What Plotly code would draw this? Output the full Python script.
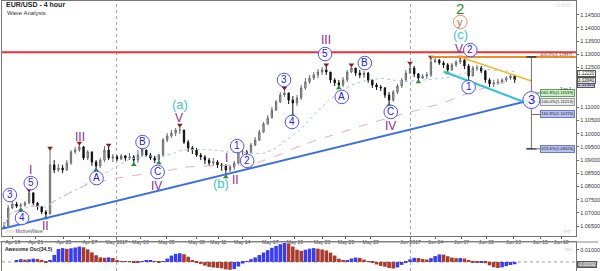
import numpy as np
import pandas as pd
import plotly.graph_objects as go

# ---------------- data (EUR/USD, 8-hour sampling of the 4h chart) ----------------
closes = [1.0651,1.0719,1.0734,1.0726,1.0730,1.0738,1.0776,1.0738,1.0723,1.0704,
          1.0696,1.0882,1.0863,1.0870,1.0863,1.0889,1.0931,1.0938,1.0950,1.0908,
          1.0931,1.0893,1.0878,1.0900,1.0938,1.0908,1.0912,1.0904,1.0916,1.0908,
          1.0912,1.0900,1.0919,1.0938,1.0919,1.0908,1.0900,1.0919,1.0976,1.0991,
          1.1002,1.1014,1.1014,1.0968,1.0946,1.0938,1.0919,1.0912,1.0900,1.0889,
          1.0893,1.0882,1.0878,1.0863,1.0874,1.0889,1.0931,1.0931,1.0927,1.0957,
          1.0976,1.1006,1.1037,1.1059,1.1089,1.1120,1.1146,1.1154,1.1127,1.1116,
          1.1135,1.1173,1.1195,1.1210,1.1222,1.1233,1.1241,1.1233,1.1203,1.1192,
          1.1184,1.1203,1.1233,1.1248,1.1229,1.1222,1.1229,1.1203,1.1184,1.1176,
          1.1173,1.1146,1.1127,1.1157,1.1180,1.1203,1.1229,1.1248,1.1226,1.1210,
          1.1218,1.1222,1.1271,1.1278,1.1267,1.1260,1.1241,1.1260,1.1271,1.1278,
          1.1256,1.1218,1.1248,1.1248,1.1237,1.1203,1.1188,1.1192,1.1195,1.1203,
          1.1210,1.1218,1.1203]
highs = [1.0666,1.0730,1.0749,1.0742,1.0738,1.0745,1.0787,1.0779,1.0742,1.0726,
         1.0711,1.0946,1.0900,1.0885,1.0882,1.0900,1.0938,1.0950,1.0965,1.0953,
         1.0938,1.0931,1.0900,1.0908,1.0953,1.0957,1.0923,1.0919,1.0923,1.0919,
         1.0927,1.0919,1.0938,1.0946,1.0938,1.0927,1.0916,1.0923,1.0984,1.1002,
         1.1014,1.1021,1.1033,1.1014,1.0976,1.0953,1.0946,1.0927,1.0919,1.0908,
         1.0908,1.0900,1.0889,1.0885,1.0882,1.0897,1.0938,1.0942,1.0938,1.0965,
         1.0987,1.1014,1.1044,1.1070,1.1101,1.1127,1.1157,1.1173,1.1154,1.1142,
         1.1146,1.1184,1.1210,1.1222,1.1233,1.1244,1.1252,1.1260,1.1233,1.1210,
         1.1203,1.1214,1.1241,1.1260,1.1248,1.1241,1.1237,1.1233,1.1203,1.1192,
         1.1184,1.1176,1.1157,1.1165,1.1188,1.1210,1.1241,1.1267,1.1256,1.1229,
         1.1226,1.1233,1.1290,1.1286,1.1282,1.1275,1.1267,1.1267,1.1278,1.1290,
         1.1282,1.1263,1.1256,1.1260,1.1256,1.1241,1.1210,1.1203,1.1207,1.1210,
         1.1218,1.1226,1.1222]
lows = [1.0640,1.0651,1.0715,1.0719,1.0711,1.0723,1.0734,1.0730,1.0711,1.0696,
        1.0681,1.0696,1.0851,1.0855,1.0851,1.0859,1.0882,1.0923,1.0931,1.0900,
        1.0900,1.0878,1.0863,1.0870,1.0893,1.0900,1.0893,1.0897,1.0900,1.0897,
        1.0900,1.0882,1.0889,1.0912,1.0912,1.0900,1.0889,1.0889,1.0912,1.0968,
        1.0984,1.0991,1.0999,1.0961,1.0931,1.0923,1.0912,1.0900,1.0885,1.0878,
        1.0878,1.0870,1.0859,1.0836,1.0855,1.0863,1.0882,1.0919,1.0916,1.0927,
        1.0953,1.0972,1.1002,1.1033,1.1059,1.1086,1.1116,1.1139,1.1112,1.1070,
        1.1105,1.1127,1.1165,1.1188,1.1203,1.1210,1.1222,1.1222,1.1192,1.1180,
        1.1173,1.1176,1.1195,1.1229,1.1218,1.1210,1.1210,1.1192,1.1173,1.1165,
        1.1161,1.1135,1.1108,1.1120,1.1150,1.1173,1.1195,1.1226,1.1214,1.1195,
        1.1207,1.1207,1.1214,1.1267,1.1260,1.1248,1.1229,1.1237,1.1252,1.1263,
        1.1244,1.1199,1.1218,1.1237,1.1229,1.1192,1.1176,1.1176,1.1184,1.1188,
        1.1195,1.1203,1.1192]
first_open = 1.0645

tick_labels = ["Apr 19", "Apr 21", "Apr 25", "Apr 27", "May 2017", "May 03", "May 05",
               "May 09", "May 11", "May 14", "May 17", "May 19", "May 23", "May 25",
               "May 29", "Jun 2017", "Jun 04", "Jun 07", "Jun 09", "Jun 13", "Jun 15", "Jun 18"]
tick_bars = [2.1, 7.6, 14.3, 20.5, 26.9, 32.6, 38.8, 46.0, 51.2, 56.9, 63.6, 69.5,
             76.0, 81.7, 87.6, 97.1, 103.1, 109.3, 115.2, 121.7, 128.1, 133.1]
month_starts = ["May 2017", "Jun 2017"]

price_ticks = [1.065, 1.07, 1.075, 1.08, 1.085, 1.09, 1.095, 1.10, 1.105, 1.11,
               1.125, 1.13, 1.135, 1.14, 1.145]

resistance_level = 1.1308
fib_names = ["061.8%", "100.0%", "161.8%", "423.6%"]
fib_values = [1.11539, 1.11213, 1.10725, 1.09426]
fib_top_text = "100.0%(1.12997)"

top_pivots = [6, 11, 18, 25, 33, 42, 67, 77, 83, 97, 102, 109]
bottom_pivots = [4, 10, 22, 31, 37, 53, 69, 80, 92, 99, 106, 111]

# wave labels: text, bar, price, style
wave_labels = [
    ("3", 1.4, 1.0768, "circ"), ("4", 4.3, 1.0681, "circ"), ("5", 6.4, 1.0813, "circ"),
    ("I", 6.4, 1.0863, "roman"), ("II", 10.0, 1.0651, "roman"), ("III", 18.1, 1.0987, "roman"),
    ("A", 22.1, 1.0832, "circ"), ("B", 33.1, 1.0968, "circ"), ("C", 36.7, 1.0855, "circ"),
    ("IV", 36.4, 1.0802, "roman"), ("V", 41.9, 1.1059, "roman"), ("(a)", 42.1, 1.1112, "minor"),
    ("(b)", 51.9, 1.0810, "minor"), ("I", 53.1, 1.0908, "roman"), ("II", 55.2, 1.0825, "roman"),
    ("1", 55.7, 1.0953, "circ"), ("2", 58.1, 1.0897, "circ"), ("3", 66.9, 1.1203, "circ"),
    ("4", 68.8, 1.1044, "circ"), ("5", 76.7, 1.1301, "circ"), ("III", 76.9, 1.1354, "roman"),
    ("A", 80.7, 1.1139, "circ"), ("B", 86.2, 1.1267, "circ"), ("C", 92.4, 1.1082, "circ"),
    ("IV", 92.4, 1.1029, "roman"), ("2", 109.0, 1.1475, "major"), ("y", 109.0, 1.1422, "ycirc"),
    ("(c)", 109.0, 1.1373, "minor"), ("V", 108.8, 1.1320, "roman"), ("2", 111.4, 1.1316, "circ"),
    ("1", 111.0, 1.1176, "circ"), ("3", 126.0, 1.1127, "bigcirc"),
]
target_bar = 126.0

# ---------------- derived ----------------
n = len(closes)
x = list(range(n))
opens = [first_open] + closes[:-1]
s_close = pd.Series(closes)
sma_long = s_close.rolling(60, min_periods=1).mean()
sma_mid = s_close.rolling(20, min_periods=1).mean()
median = (pd.Series(highs) + pd.Series(lows)) / 2
ao = median.rolling(3, min_periods=1).mean() - median.rolling(17, min_periods=1).mean()
ao_colors = ["#3b3bef" if i > 0 and ao[i] > ao[i - 1] else "#a8392f" for i in range(n)]

# ---------------- layout constants ----------------
W, H = 600, 271
XR = [-0.48, 136.67]
XDOM = [2 / W, 578 / W]
Y1DOM = [35 / H, 1 - 1 / H]
Y1R = [1.0613, 1.15015]
Y2DOM = [0, 29 / H]
Y2R = [-0.0075, 0.0165]
FONT = "Liberation Sans, Arial, sans-serif"
PURPLE = "#8b2f8b"
CYAN = "#3fc4cc"
BLUE = "#2222dd"
BOX_RIGHT = 577 / W

fig = go.Figure()

fig.add_trace(go.Scatter(x=x, y=sma_long, mode="lines",
                         line=dict(color="#e6a9c9", width=1, dash="dash"),
                         hoverinfo="skip", showlegend=False))
fig.add_trace(go.Scatter(x=x, y=sma_mid, mode="lines",
                         line=dict(color="#a9c6ee", width=1, dash="dot"),
                         hoverinfo="skip", showlegend=False))

fig.add_trace(go.Candlestick(
    x=x, open=opens, high=highs, low=lows, close=closes,
    increasing=dict(line=dict(color="#6a6a6a", width=1), fillcolor="#c4c4c4"),
    decreasing=dict(line=dict(color="#111111", width=1), fillcolor="#111111"),
    whiskerwidth=0, showlegend=False, hoverinfo="skip"))

fig.add_trace(go.Scatter(x=top_pivots, y=[highs[i] for i in top_pivots], mode="markers",
                         marker=dict(symbol="triangle-down", size=5, color="#8b1c1c"),
                         hoverinfo="skip", showlegend=False))
fig.add_trace(go.Scatter(x=bottom_pivots, y=[lows[i] for i in bottom_pivots], mode="markers",
                         marker=dict(symbol="triangle-up", size=5, color="#2f8a2f"),
                         hoverinfo="skip", showlegend=False))

fig.add_trace(go.Bar(x=x, y=ao, marker=dict(color=ao_colors, line=dict(width=0)),
                     xaxis="x2", yaxis="y2", hoverinfo="skip", showlegend=False))

shapes = []
annotations = []

# month separators
for lab in month_starts:
    xb = tick_bars[tick_labels.index(lab)]
    shapes.append(dict(type="line", xref="x", yref="paper", x0=xb, x1=xb, y0=0, y1=Y1DOM[1],
                       line=dict(color="#a0a0a0", width=1, dash="dot"), layer="below"))

# resistance line
shapes.append(dict(type="line", xref="x", yref="y", x0=XR[0], x1=XR[1],
                   y0=resistance_level, y1=resistance_level,
                   line=dict(color="#ee3030", width=2)))
# orange horizontal from top at bar 102
shapes.append(dict(type="line", xref="x", yref="y", x0=102, x1=XR[1],
                   y0=highs[102], y1=highs[102], line=dict(color="#f08a2a", width=2)))

# blue trend line through wave II low to wave 3 target
t_slope = (wave_labels[-1][2] - lows[10]) / (target_bar - 10)
shapes.append(dict(type="line", xref="x", yref="y", x0=XR[0], x1=target_bar - 0.7,
                   y0=lows[10] + (XR[0] - 10) * t_slope,
                   y1=lows[10] + (target_bar - 0.7 - 10) * t_slope,
                   line=dict(color="#3b6fe0", width=2)))
# cyan channel line through lows 106 and 111
c_slope = (lows[111] - lows[106]) / 5
shapes.append(dict(type="line", xref="x", yref="y", x0=105, x1=target_bar - 0.7,
                   y0=lows[106] - c_slope, y1=lows[106] + (target_bar - 0.7 - 106) * c_slope,
                   line=dict(color="#33c3cc", width=2)))
# yellow line through highs 109 and 121
y_slope = (highs[121] - highs[109]) / 12
shapes.append(dict(type="line", xref="x", yref="y", x0=109, x1=target_bar,
                   y0=highs[109], y1=highs[109] + (target_bar - 109) * y_slope,
                   line=dict(color="#f2b821", width=1.5)))

# fib projection tool
box_bar = 129.3
shapes.append(dict(type="line", xref="x", yref="y", x0=target_bar, x1=target_bar,
                   y0=highs[102], y1=fib_values[-1], line=dict(color="#707070", width=1)))
for yv in (highs[102], fib_values[-1]):
    shapes.append(dict(type="line", xref="x", yref="y", x0=target_bar - 1.2, x1=target_bar + 1.2,
                       y0=yv, y1=yv, line=dict(color="#333333", width=1.5)))
fib_bg = ["#c9efc4", "#ececec", "#b9c3ef", "#b9c3ef"]
fib_bd = ["#58a858", "#999999", "#6a78cc", "#6a78cc"]
for name, val, bg, bd in zip(fib_names, fib_values, fib_bg, fib_bd):
    shapes.append(dict(type="line", xref="x", yref="y", x0=target_bar, x1=box_bar,
                       y0=val, y1=val, line=dict(color="#707070", width=1)))
    annotations.append(dict(xref="paper", yref="y", x=BOX_RIGHT, y=val, xanchor="right",
                            yanchor="middle", text=f"{name}({val:.5f})", showarrow=False,
                            font=dict(size=4.2, color="#222222", family=FONT),
                            bgcolor=bg, bordercolor=bd, borderwidth=1, borderpad=0.3))
annotations.append(dict(xref="paper", yref="y", x=BOX_RIGHT, y=(resistance_level + highs[102]) / 2,
                        xanchor="right", yanchor="middle", text=fib_top_text, showarrow=False,
                        font=dict(size=4.2, color="#333333", family=FONT)))
annotations.append(dict(xref="paper", yref="y", x=BOX_RIGHT - 0.002, y=fib_values[0] + 0.0015,
                        xanchor="right", yanchor="middle", text="3 es 1", showarrow=False,
                        font=dict(size=4.2, color="#222222", family=FONT)))

# wave labels
for text, b, p, style in wave_labels:
    if style in ("circ", "bigcirc", "ycirc"):
        r = 8.5 if style == "bigcirc" else 6.8
        lc = "#e09070" if style == "ycirc" else "#5050ff"
        shapes.append(dict(type="circle", xref="x", yref="y", xsizemode="pixel", ysizemode="pixel",
                           xanchor=b, yanchor=p, x0=-r, x1=r, y0=-r, y1=r,
                           line=dict(color=lc, width=1), fillcolor="rgba(255,255,255,0.85)",
                           layer="above"))
        col = "#c06a3a" if style == "ycirc" else BLUE
        size = 13 if style == "bigcirc" else (11 if style == "ycirc" else 10)
        annotations.append(dict(xref="x", yref="y", x=b, y=p, text=text, showarrow=False,
                                font=dict(size=size, color=col, family=FONT),
                                xanchor="center", yanchor="middle", yshift=0.5))
    else:
        col = {"roman": PURPLE, "minor": CYAN, "major": "#2a8a2a"}[style]
        size = {"roman": 12, "minor": 13, "major": 15}[style]
        annotations.append(dict(xref="x", yref="y", x=b, y=p, text=text, showarrow=False,
                                font=dict(size=size, color=col, family=FONT),
                                xanchor="center", yanchor="middle"))

# AO zero line
shapes.append(dict(type="line", xref="paper", yref="y2", x0=XDOM[0], x1=1, y0=0, y1=0,
                   line=dict(color="#9a9a9a", width=1, dash="dot"), layer="below"))
# panel separator
shapes.append(dict(type="line", xref="paper", yref="paper", x0=0, x1=1, y0=Y2DOM[1], y1=Y2DOM[1],
                   line=dict(color="#888888", width=1)))

# price boxes on axis (last bar high / low and long average)
for val, bg, ys in ((highs[-1], "#ffffff", 1.5), (lows[-1], "#c9c9f2", -1.5),
                    (sma_long.iloc[-1], "#e6e6e6", -1)):
    annotations.append(dict(xref="paper", yref="y", x=XDOM[1] + 0.002, y=val, xanchor="left",
                            yanchor="middle", text=f"{val:.5f}", showarrow=False, yshift=ys,
                            font=dict(size=4.5, color="#222222", family=FONT),
                            bgcolor=bg, bordercolor="#555555", borderwidth=1, borderpad=0))
annotations.append(dict(xref="paper", yref="y2", x=XDOM[1] + 0.002, y=ao.iloc[-1], xanchor="left",
                        yanchor="middle", text=f"{ao.iloc[-1]:.5f}", showarrow=False,
                        font=dict(size=4.5, color="#ffffff", family=FONT),
                        bgcolor="#8a8a8a", bordercolor="#555555", borderwidth=1, borderpad=0))

# titles and small texts
annotations += [
    dict(xref="paper", yref="paper", x=4 / W, y=1 - 5 / H, xanchor="left", yanchor="middle",
         text="<b>EUR/USD - 4 hour</b>", showarrow=False, font=dict(size=7, color="#222", family=FONT)),
    dict(xref="paper", yref="paper", x=5 / W, y=1 - 12.5 / H, xanchor="left", yanchor="middle",
         text="Wave Analysis", showarrow=False, font=dict(size=6, color="#333", family=FONT)),
    dict(xref="paper", yref="paper", x=3 / W, y=1 - 231 / H, xanchor="left", yanchor="middle",
         text="○○○ MotiveWave", showarrow=False, font=dict(size=5, color="#555", family=FONT)),
    dict(xref="paper", yref="paper", x=3 / W, y=1 - 248.5 / H, xanchor="left", yanchor="middle",
         text="<b>Awesome Osc(34,5)</b>", showarrow=False, font=dict(size=5, color="#222", family=FONT)),
    dict(xref="paper", yref="paper", x=575 / W, y=1 - 4.5 / H, xanchor="right", yanchor="middle",
         text="◇◇◇", showarrow=False, font=dict(size=6, color="#aaa", family=FONT)),
    dict(xref="paper", yref="paper", x=575 / W, y=1 - 231 / H, xanchor="right", yanchor="middle",
         text="◇◇", showarrow=False, font=dict(size=5, color="#aaa", family=FONT)),
    dict(xref="paper", yref="paper", x=576 / W, y=1 - 248.5 / H, xanchor="right", yanchor="middle",
         text="◇□", showarrow=False, font=dict(size=5, color="#aaa", family=FONT)),
]

fig.update_layout(
    width=W, height=H, margin=dict(l=0, r=0, t=0, b=0),
    paper_bgcolor="white", plot_bgcolor="white",
    font=dict(family=FONT, size=6, color="#333"),
    showlegend=False, bargap=0.15, boxgap=0.55,
    xaxis=dict(domain=XDOM, range=XR, anchor="y", tickmode="array", tickvals=tick_bars,
               ticktext=tick_labels, ticks="outside", ticklen=2, tickcolor="#666",
               ticklabelstandoff=-1,
               tickfont=dict(size=5, color="#333"), showgrid=False, zeroline=False,
               showline=True, linecolor="#777", mirror=True, rangeslider=dict(visible=False)),
    yaxis=dict(domain=Y1DOM, range=Y1R, side="right", anchor="x", tickmode="array",
               tickvals=price_ticks, tickformat=".5f", ticks="outside", ticklen=2,
               tickcolor="#666", tickfont=dict(size=5.5, color="#333"), showgrid=False,
               zeroline=False, showline=True, linecolor="#777", mirror=True),
    xaxis2=dict(domain=XDOM, range=XR, anchor="y2", matches="x", showticklabels=False,
                showgrid=False, zeroline=False, showline=True, linecolor="#777", mirror=True),
    yaxis2=dict(domain=Y2DOM, range=Y2R, side="right", anchor="x2", tickmode="array",
                tickvals=[0.01], tickformat=".5f", ticks="outside", ticklen=2, tickcolor="#666",
                tickfont=dict(size=5.5, color="#333"), showgrid=False, zeroline=False,
                showline=True, linecolor="#777", mirror=True),
    shapes=shapes, annotations=annotations,
)

fig.write_html("out.html")
